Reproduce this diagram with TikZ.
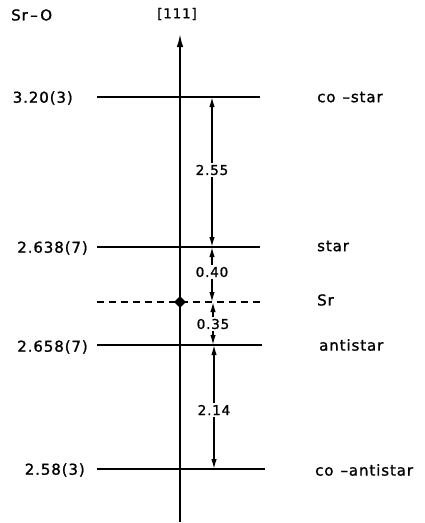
\documentclass[tikz,border=0pt]{standalone}
\usepackage{fontspec}
\setmainfont{DejaVu Sans}[LetterSpace=6,FakeBold=1.2]
\usetikzlibrary{arrows.meta,shapes.geometric}

\newcommand{\bigfnt}{\fontsize{15}{17}\selectfont}
\newcommand{\valfnt}{\fontsize{13.5}{15}\selectfont}

\begin{document}
\begin{tikzpicture}[x=1pt,y=-1pt,
  lvl/.style={line width=1.8pt},
  axis/.style={line width=1.7pt,-{Latex[length=13pt,width=6.5pt]}},
  dim/.style={line width=1.5pt,-{Latex[length=10pt,width=5.5pt]}},
  lft/.style={anchor=east,font=\bigfnt,inner sep=0pt},
  rgt/.style={anchor=west,font=\bigfnt,inner sep=0pt},
  val/.style={font=\valfnt,inner sep=2pt}]
  \useasboundingbox (0,0) rectangle (425,523);
  \node[font=\bigfnt,anchor=west,inner sep=0pt] (srO) at (11,15) {Sr\,--\,O};
  \node[font=\valfnt] (dir) at (177,14) {[111]};
  \coordinate (bot) at (180,522); \coordinate (top) at (180,34);
  \draw[axis] (bot) -- (top);
  \coordinate (cs-a) at (97,97); \coordinate (cs-b) at (260,97);
  \coordinate (st-a) at (97,247); \coordinate (st-b) at (260,247);
  \coordinate (sr-a) at (97,302); \coordinate (sr-b) at (262,302);
  \coordinate (as-a) at (97,345); \coordinate (as-b) at (262,345);
  \coordinate (ca-a) at (97,469); \coordinate (ca-b) at (265,469);
  \draw[lvl] (cs-a) -- (cs-b); \draw[lvl] (st-a) -- (st-b);
  \draw[lvl,dash pattern=on 7pt off 5pt] (sr-a) -- (sr-b);
  \draw[lvl] (as-a) -- (as-b); \draw[lvl] (ca-a) -- (ca-b);
  \node[diamond,fill,inner sep=0pt,minimum size=12pt] (srat) at (180,302) {};
  \node[lft] (l1) at (73,98) {3.20(3)};
  \node[lft] (l2) at (88,248) {2.638(7)};
  \node[lft] (l3) at (88,347) {2.658(7)};
  \node[lft] (l4) at (85,470) {2.58(3)};
  \node[rgt] (r1) at (317,97) {co\hspace{7pt}--star};
  \node[rgt] (r2) at (317,246) {star};
  \node[rgt] (r3) at (317,300) {Sr};
  \node[rgt] (r4) at (319,345) {antistar};
  \node[rgt] (r5) at (315,470) {co\hspace{7pt}--antistar};
  \node[val] (d255) at (212,170) {2.55};
  \node[val] (d040) at (212,272) {0.40};
  \node[val] (d035) at (213,324) {0.35};
  \node[val] (d214) at (214,410) {2.14};
  \draw[dim] (d255) -- (d255 |- cs-b); \draw[dim] (d255) -- (d255 |- st-b);
  \draw[dim] (d040) -- (d040 |- st-b); \draw[dim] (d040) -- (d040 |- sr-b);
  \draw[dim] (d035) -- (d035 |- sr-b); \draw[dim] (d035) -- (d035 |- as-b);
  \draw[dim] (d214) -- (d214 |- as-b); \draw[dim] (d214) -- (d214 |- ca-b);
\end{tikzpicture}
\end{document}
